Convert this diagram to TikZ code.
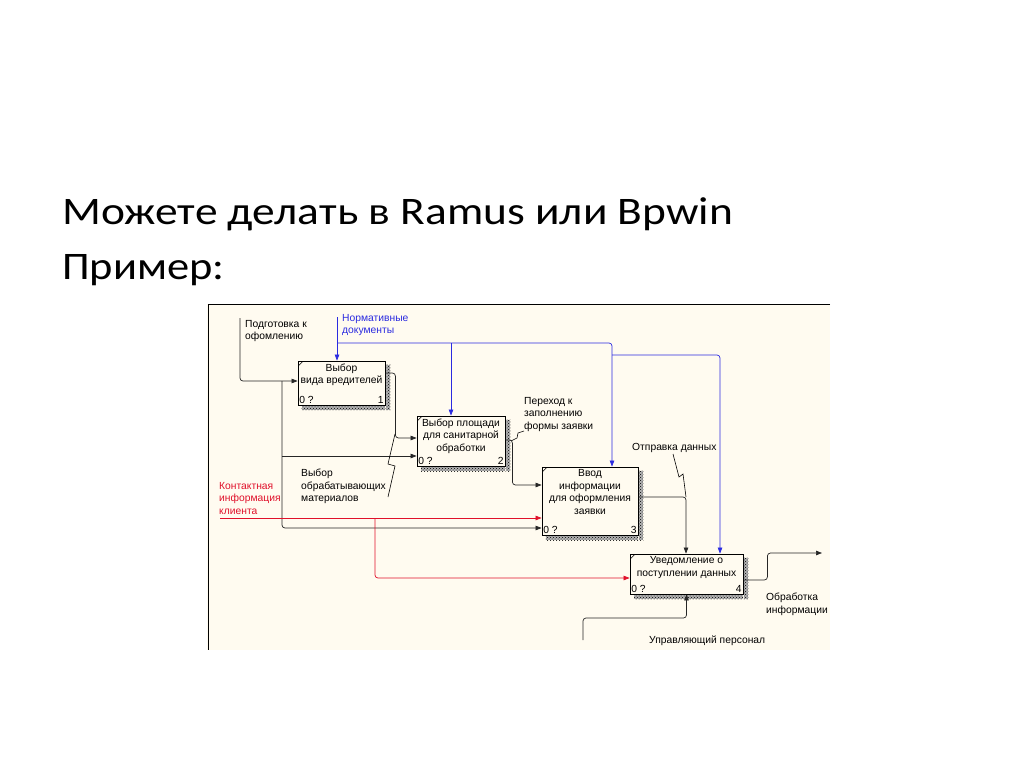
\documentclass[tikz,border=0pt]{standalone}
\usepackage{fontspec}
\setmainfont{Liberation Sans}
\newfontfamily\titlefont{Carlito}
\usetikzlibrary{arrows.meta,calc,patterns}

\definecolor{paper}{HTML}{FFFBF0}
\definecolor{nblue}{HTML}{2B2BE0}
\definecolor{kred}{HTML}{E0102A}

\begin{document}
\begin{tikzpicture}[x=1pt,y=-1pt,
  box/.style={draw=black, fill=paper, line width=0.8pt, inner sep=0pt},
  boxtxt/.style={font=\fontsize{10.3}{12.5}\selectfont, align=center, inner sep=0pt},
  num/.style={font=\fontsize{10.3}{12}\selectfont, inner sep=1.5pt},
  lbl/.style={font=\fontsize{10.3}{12.5}\selectfont, align=left, inner sep=0pt, anchor=north west},
  ttl/.style={font=\titlefont\fontsize{39}{44}\selectfont, inner sep=0pt, anchor=base west},
  flow/.style={draw=black!85, line width=0.7pt, rounded corners=3pt},
  arr/.style={flow, -{Triangle[length=6pt,width=4.5pt]}},
  barr/.style={arr, draw=nblue},
  rarr/.style={arr, draw=kred},
  squig/.style={draw=black, line width=0.6pt}]
    \useasboundingbox (0,0) rectangle (1024,767);
    \fill[white] (0,0) rectangle (1024,767);

    % Title
    \node[ttl] (title) at (62,225) {\scalebox{1.165}[1]{Можете делать в Ramus или Bpwin}};
    \node[ttl] (example) at (62,279) {\scalebox{1.14}[1]{Пример:}};

    % Diagram sheet
    \fill[paper] (207,304) rectangle (830,650);
    \draw[line width=0.8pt] (830,304) -- (208,304) -- (208,650);

    % Activity boxes
    \node[box, minimum width=87pt, minimum height=44pt] (b1) at (341.5,383) {};
    \node[box, minimum width=88pt, minimum height=50pt] (b2) at (461,441) {};
    \node[box, minimum width=96pt, minimum height=68pt] (b3) at (590,501) {};
    \node[box, minimum width=113pt, minimum height=40pt] (b4) at (686.5,574) {};

    % Shadows, corner ticks, numbers
    \foreach \b/\n in {b1/1, b2/2, b3/3, b4/4} {
      \fill[black!30] ($(\b.north east)+(0.4,4)$) rectangle ($(\b.south east)+(5,5)$);
      \fill[black!30] ($(\b.south west)+(4,0.4)$) rectangle ($(\b.south east)+(0,5)$);
      \fill[pattern=crosshatch dots, pattern color=black]
        ($(\b.north east)+(0.4,4)$) rectangle ($(\b.south east)+(5,5)$);
      \fill[pattern=crosshatch dots, pattern color=black]
        ($(\b.south west)+(4,0.4)$) rectangle ($(\b.south east)+(0,5)$);
      \draw[line width=0.5pt] ($(\b.north west)+(1,5)$) -- ($(\b.north west)+(5,1)$);
      \node[num, anchor=south west] (\b z) at (\b.south west) {0 ?};
      \node[num, anchor=south east] (\b n) at (\b.south east) {\n};
    }

    % Box titles
    \node[boxtxt, anchor=north] (t1) at ($(b1.north)+(0,3)$) {Выбор\\вида вредителей};
    \node[boxtxt, anchor=north] (t2) at ($(b2.north)+(0,3)$) {Выбор площади\\для санитарной\\обработки};
    \node[boxtxt, anchor=north] (t3) at ($(b3.north)+(0,3)$) {Ввод\\информации\\для оформления\\заявки};
    \node[boxtxt, anchor=north] (t4) at ($(b4.north)+(0,3)$) {Уведомление о\\поступлении данных};

    % Ports
    \coordinate (b1in) at ($(b1.west)+(0,-2)$);
    \coordinate (b1top) at ($(b1.north)+(-4.5,0)$);
    \coordinate (b1out) at ($(b1.east)+(0,-10)$);
    \coordinate (b2in1) at ($(b2.west)+(0,-3)$);
    \coordinate (b2in2) at ($(b2.west)+(0,15)$);
    \coordinate (b2top) at ($(b2.north)+(-10,0)$);
    \coordinate (b2out) at ($(b2.east)+(0,-1)$);
    \coordinate (b3in1) at ($(b3.west)+(0,-16)$);
    \coordinate (b3in2) at ($(b3.west)+(0,17)$);
    \coordinate (b3in3) at ($(b3.west)+(0,27)$);
    \coordinate (b3top) at ($(b3.north)+(22,0)$);
    \coordinate (b3out) at ($(b3.east)+(0,-4)$);
    \coordinate (b4in) at ($(b4.west)+(0,4)$);
    \coordinate (b4top1) at ($(b4.north)+(-0.5,0)$);
    \coordinate (b4top2) at ($(b4.north)+(33.5,0)$);
    \coordinate (b4out) at ($(b4.east)+(0,6)$);

    % Free ends
    \coordinate (podg) at (240,318);
    \coordinate (fork) at (282,381);
    \coordinate (norm) at (337,317);
    \coordinate (njoin) at (337,343);
    \coordinate (nfork) at (612,355);
    \coordinate (kont) at (220,518);
    \coordinate (kfork) at (375,518);
    \coordinate (obr) at (822,553);
    \coordinate (upr) at (583,640);

    % Black arrows
    \draw[arr] (podg) |- (b1in);
    \draw[arr] (fork) |- (b3in3);
    \draw[arr] (fork |- b2in2) -- (b2in2);
    \draw[arr] (b1out) -- ++(10,0) |- (b2in1);
    \draw[arr] (b2out) -- ++(7,0) |- (b3in1);
    \draw[arr] (b3out) -| (b4top1);
    \draw[arr] (b4out) -- ++(24,0) |- (obr);
    \draw[arr] (upr) -- ++(0,-22) -| (b4.south);
    % Blue arrows
    \draw[barr] (norm) -- (b1top);
    \draw[barr] (njoin) -| (b3top);
    \draw[barr] (njoin -| b2top) -- (b2top);
    \draw[barr] (nfork) -| (b4top2);
    % Red arrows
    \draw[rarr] (kont) -- (b3in2);
    \draw[rarr] (kfork) |- (b4in);

    % Squiggles
    \draw[squig] (388,497) -- (395,466) -- (388,464) -- (395,434);
    \draw[squig] (524,431) -- (518,433) -- (517,438) -- (511,441);
    \draw[squig] (673,454) -- (679,477) -- (683,474) -- (686,497);

    % Arrow labels
    \node[lbl] (lpodg) at (245,320) {Подготовка к\\офомлению};
    \node[lbl, text=nblue] (lnorm) at (342,314) {Нормативные\\документы};
    \node[lbl] (lper) at (524,397) {Переход к\\заполнению\\формы заявки};
    \node[lbl] (lotp) at (632,443) {Отправка данных};
    \node[lbl] (lvyb) at (301,469) {Выбор\\обрабатывающих\\материалов};
    \node[lbl, text=kred] (lkont) at (219,482) {Контактная\\информация\\клиента};
    \node[lbl] (lobr) at (766,593) {Обработка\\информации};
    \node[lbl] (lupr) at (649,636) {Управляющий персонал};
\end{tikzpicture}
\end{document}
